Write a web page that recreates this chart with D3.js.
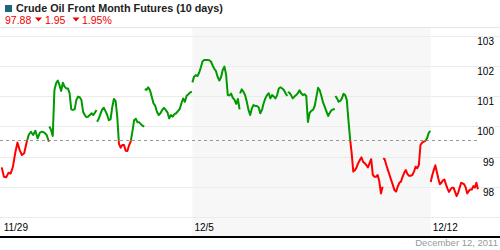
<!DOCTYPE html>
<html>
<head>
<meta charset="utf-8">
<script src="https://cdn.jsdelivr.net/npm/d3@7"></script>
<style>
  body { margin: 0; background: #fff; }
  svg { display: block; font-family: Arial, "Liberation Sans", sans-serif; }
</style>
</head>
<body>
<script>
// trading days shown (10 days)
var days = ["11/29", "11/30", "12/1", "12/2", "12/5", "12/6", "12/7", "12/8", "12/9", "12/12"];

// prices per session
var s1129 = [98.64, 98.33, 98.31, 98.46, 98.44, 98.66, 99.11, 99.46, 99.21, 99.05, 99.11, 99.44, 99.71, 99.82, 99.71, 99.85, 99.60, 99.79, 99.82, 99.79, 99.71, 99.49];
var s1130 = [99.99, 99.88, 99.68, 101.20, 101.42, 101.51, 101.36, 101.17, 101.44, 101.31, 101.25, 101.25, 101.09, 100.56, 100.54, 100.56, 100.87, 100.98, 100.96, 100.87, 100.48, 100.37, 100.30, 100.32, 100.37, 100.43, 100.37, 100.45, 100.54];
var s1201 = [100.15, 100.25, 100.40, 100.55, 100.61, 100.50, 100.38, 100.20, 100.23, 100.62, 100.90, 100.84, 100.32, 99.42, 99.29, 99.38, 99.38, 99.19, 99.18, 99.37, 99.50, 99.83, 100.20, 100.25, 100.13, 100.13, 100.07, 100.02, 99.99];
var s1202 = [101.23, 101.20, 101.29, 101.20, 100.98, 100.76, 100.68, 100.48, 100.37, 100.43, 100.54, 100.61, 100.54, 100.46, 100.26, 100.37, 100.32, 100.40, 100.43, 100.50, 100.57, 100.76, 100.92, 100.81, 101.01, 101.06, 101.12, 101.14];
var s1205 = [101.45, 101.64, 101.69, 101.66, 101.77, 101.94, 102.14, 102.19, 102.19, 102.19, 102.18, 102.14, 102.01, 101.90, 101.82, 101.63, 101.51, 101.62, 101.86, 101.97, 101.71, 101.03, 101.02, 101.08, 100.94, 100.87, 100.74, 100.90, 100.56];
var s1206 = [101.09, 101.22, 101.14, 101.03, 100.81, 100.54, 100.37, 100.59, 100.70, 100.67, 100.67, 100.63, 100.43, 100.54, 100.76, 100.92, 101.03, 101.09, 100.92, 101.03, 100.98, 100.92, 101.03, 101.25, 101.29, 101.25, 101.20, 101.09, 101.00];
var s1207 = [101.13, 101.11, 101.03, 100.92, 100.98, 101.03, 101.09, 101.19, 101.09, 101.03, 101.06, 101.00, 100.14, 100.44, 100.51, 100.54, 100.67, 100.97, 101.27, 101.19, 100.99, 100.78, 100.64, 100.48, 100.34, 100.45, 100.53, 100.56, 100.56];
var s1208 = [101.00, 100.92, 100.81, 100.84, 100.92, 101.07, 101.03, 100.87, 100.21, 99.60, 99.11, 98.50, 98.55, 98.64, 98.78, 98.88, 98.97, 98.83, 98.78, 98.72, 98.64, 98.78, 98.91, 98.39, 98.33, 98.33, 98.39, 98.17, 97.78, 98.00];
var s1209 = [98.94, 98.91, 98.72, 98.55, 98.39, 98.22, 98.06, 97.89, 97.84, 98.00, 98.13, 98.17, 98.33, 98.46, 98.55, 98.42, 98.36, 98.36, 98.39, 98.50, 98.66, 98.61, 98.72, 99.38, 99.46, 99.49, 99.52, 99.60, 99.77, 99.85];
var s1212 = [98.16, 98.38, 98.55, 98.71, 98.49, 98.27, 98.08, 98.13, 98.21, 98.24, 98.08, 97.94, 97.83, 97.91, 97.97, 97.97, 97.83, 97.69, 97.80, 97.97, 98.13, 98.11, 98.08, 97.97, 97.78, 97.86, 97.91, 97.91, 98.02, 97.97, 98.13, 97.92];
var sessions = [s1129, s1130, s1201, s1202, s1205, s1206, s1207, s1208, s1209, s1212];

var refLevel = 99.53;           // dashed reference line
var gridValues = [97, 98, 99, 100, 101, 102, 103];
var yTickValues = [98, 99, 100, 101, 102, 103];
var xTickDays = [0, 4, 9];      // 11/29, 12/5, 12/12
var shadeDays = [4, 9];         // week of 12/5

var title = "Crude Oil Front Month Futures (10 days)";
var lastPrice = "97.88", change = "1.95", changePct = "1.95%";
var dateStamp = "December 12, 2011";

var fullwidth = 500, fullheight = 250;

var svg = d3.select("body").append("svg")
  .attr("width", fullwidth)
  .attr("height", fullheight);

// scales: trading day index -> x, price -> y
var x = d3.scaleLinear().domain([0, 10]).range([1.7, 478.4]);
var y = d3.scaleLinear().domain([97, 103]).range([217, 35.5]);

// shaded week
svg.append("rect")
  .attr("x", x(shadeDays[0]))
  .attr("y", 28)
  .attr("width", x(shadeDays[1]) - x(shadeDays[0]))
  .attr("height", 236 - 28)
  .attr("fill", "#f7f7f7");

// header rule
svg.append("line")
  .attr("x1", 0).attr("x2", fullwidth)
  .attr("y1", 27.5).attr("y2", 27.5)
  .attr("stroke", "#e6e6e6");

// grid lines
svg.selectAll(".grid")
  .data(gridValues)
  .enter().append("line")
  .attr("class", "grid")
  .attr("x1", 0).attr("x2", fullwidth)
  .attr("y1", function(d) { return Math.round(y(d)) + 0.5; })
  .attr("y2", function(d) { return Math.round(y(d)) + 0.5; })
  .attr("stroke", "#ebebeb");

// y labels on the right
svg.selectAll(".ylab")
  .data(yTickValues)
  .enter().append("text")
  .attr("class", "ylab")
  .attr("x", 494)
  .attr("y", function(d) { return y(d) + 9; })
  .attr("text-anchor", "end")
  .attr("font-size", 10)
  .attr("fill", "#000")
  .text(function(d) { return d; });

// dashed reference line
svg.append("line")
  .attr("x1", 0).attr("x2", x(10))
  .attr("y1", Math.round(y(refLevel)) + 0.5)
  .attr("y2", Math.round(y(refLevel)) + 0.5)
  .attr("stroke", "#999")
  .attr("stroke-dasharray", "3,3");

// clip areas above and below the reference
var defs = svg.append("defs");
defs.append("clipPath").attr("id", "above")
  .append("rect").attr("x", 0).attr("y", 0)
  .attr("width", fullwidth).attr("height", y(refLevel));
defs.append("clipPath").attr("id", "below")
  .append("rect").attr("x", 0).attr("y", y(refLevel))
  .attr("width", fullwidth).attr("height", fullheight - y(refLevel));

var line = d3.line()
  .x(function(d) { return x(d.t); })
  .y(function(d) { return y(d.v); });

var sessionData = sessions.map(function(vals, i) {
  return vals.map(function(v, j) {
    return { t: i + j / (vals.length - 1) * 0.99, v: v };
  });
});

[["above", "#009a00"], ["below", "#ff0000"]].forEach(function(c) {
  svg.append("g")
    .attr("clip-path", "url(#" + c[0] + ")")
    .selectAll("path")
    .data(sessionData)
    .enter().append("path")
    .attr("d", line)
    .attr("fill", "none")
    .attr("stroke", c[1])
    .attr("stroke-width", 2)
    .attr("stroke-linejoin", "round");
});

// x labels
svg.selectAll(".xlab")
  .data(xTickDays)
  .enter().append("text")
  .attr("class", "xlab")
  .attr("x", function(d) { return x(d) + 2; })
  .attr("y", 231)
  .attr("font-size", 10)
  .attr("fill", "#000")
  .text(function(d) { return days[d]; });

// bottom axis rule
svg.append("line")
  .attr("x1", 0).attr("x2", fullwidth)
  .attr("y1", 237).attr("y2", 237)
  .attr("stroke", "#000")
  .attr("stroke-width", 2);

svg.append("text")
  .attr("x", 498).attr("y", 246)
  .attr("text-anchor", "end")
  .attr("font-size", 9.5)
  .attr("fill", "#999")
  .text(dateStamp);

// header
svg.append("rect")
  .attr("x", 5).attr("y", 5)
  .attr("width", 7).attr("height", 7)
  .attr("fill", "#17687e");

svg.append("text")
  .attr("x", 16).attr("y", 12)
  .attr("font-size", 10.8)
  .attr("font-weight", "bold")
  .attr("fill", "#222")
  .text(title);

// price, change and percent change, each with a down arrow
var red = "#ee0000";
svg.append("text").attr("x", 5).attr("y", 24)
  .attr("font-size", 10.5).attr("fill", red).text(lastPrice);
svg.append("text").attr("x", 45).attr("y", 24)
  .attr("font-size", 10.5).attr("fill", red).text(change);
svg.append("text").attr("x", 82).attr("y", 24)
  .attr("font-size", 10.5).attr("fill", red).text(changePct);
[35, 72.5].forEach(function(ax) {
  svg.append("path")
    .attr("d", "M" + ax + ",17.5h7l-3.5,4z")
    .attr("fill", red);
});
</script>
</body>
</html>
